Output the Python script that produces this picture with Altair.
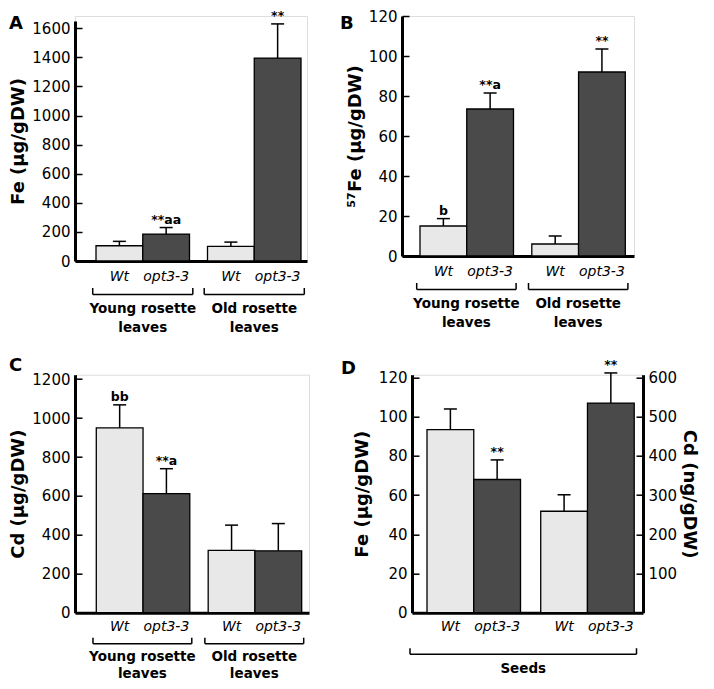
import altair as alt
import pandas as pd

FONT = "DejaVu Sans, Verdana, sans-serif"
GENO = ["Wt", "opt3-3"]
LEAF_GROUPS = ["Young rosette\nleaves", "Old rosette\nleaves"]
SEED_GROUPS = ["Fe", "Cd"]
FILL = ["#e8e8e8", "#4a4a4a"]

# Panel A: Fe in leaves (µg/gDW)
A_val = [105, 185, 100, 1395]
A_err = [30, 45, 30, 235]
A_ann = ["", "**aa", "", "**"]
A_ticks = [0, 200, 400, 600, 800, 1000, 1200, 1400, 1600]

# Panel B: 57Fe in leaves (µg/gDW)
B_val = [15, 73.5, 6, 92]
B_err = [3.7, 8, 4, 11.5]
B_ann = ["b", "**a", "", "**"]
B_ticks = [0, 20, 40, 60, 80, 100, 120]

# Panel C: Cd in leaves (µg/gDW)
C_val = [950, 612, 320, 318]
C_err = [118, 128, 130, 140]
C_ann = ["bb", "**a", "", ""]
C_ticks = [0, 200, 400, 600, 800, 1000, 1200]

# Panel D: seeds, Fe (µg/gDW) left axis, Cd (ng/gDW) right axis
D_fe_val = [93.5, 68]
D_fe_err = [10.5, 10]
D_fe_ann = ["", "**"]
D_fe_ticks = [0, 20, 40, 60, 80, 100, 120]
D_cd_val = [259, 535]
D_cd_err = [42, 77]
D_cd_ann = ["", "**"]
D_cd_ticks = [100, 200, 300, 400, 500, 600]


def yaxis(values, title, orient="left", tpad=4):
    return alt.Axis(values=values, title=title, orient=orient, format="d", labelOverlap=False,
                    tickCount=30,
                    grid=True, gridDash=[7, 3000], gridColor="black", gridWidth=1.5, gridOpacity=1,
                    ticks=False, domain=True, domainColor="black", domainWidth=3,
                    labelFont=FONT, labelFontSize=15, labelColor="black", labelPadding=5,
                    titleFont=FONT, titleFontSize=18, titleFontWeight="bold", titleColor="black",
                    titlePadding=tpad)


XAXIS = alt.Axis(labels=False, ticks=False, title=None, grid=False, domain=True,
                 domainColor="black", domainWidth=3)


def value_layers(df, xenc, yscale, yax):
    base = alt.Chart(df)
    xo = alt.XOffset("genotype:N", scale=alt.Scale(domain=GENO, paddingInner=0, paddingOuter=0))
    bars = base.mark_bar(stroke="black", strokeWidth=1.3).encode(
        x=xenc, xOffset=xo, y=alt.Y("value:Q", scale=yscale, axis=yax),
        color=alt.Color("genotype:N", scale=alt.Scale(domain=GENO, range=FILL), legend=None))
    err = base.mark_rule(color="black", strokeWidth=1.5).encode(
        x=xenc, xOffset=xo, y="value:Q", y2="hi:Q")
    cap = base.mark_tick(color="black", size=13, thickness=1.5, opacity=1).encode(
        x=xenc, xOffset=xo, y="hi:Q")
    ann = base.mark_text(font=FONT, fontSize=12.5, fontWeight="bold", dy=-4,
                         baseline="alphabetic", color="black").encode(
        x=xenc, xOffset=xo, y="hi:Q", text="annot:N")
    return [bars, err, cap, ann]


def letter_layer(letter, lx, ly):
    return alt.Chart(pd.DataFrame({"t": [letter]})).mark_text(
        font=FONT, fontSize=18, fontWeight="bold", align="left", baseline="alphabetic",
        color="black").encode(x=alt.value(lx), y=alt.value(ly), text="t:N")


def geno_layer(df, xenc, y):
    xo = alt.XOffset("genotype:N", scale=alt.Scale(domain=GENO, paddingInner=0, paddingOuter=0))
    return alt.Chart(df).mark_text(font=FONT, fontSize=14, fontStyle="italic",
                                   baseline="alphabetic", color="black").encode(
        x=xenc, xOffset=xo, y=alt.value(y), text="genotype:N")


def leaf_panel(letter, vals, errs, anns, title, ydomain, ticks, W, H, pi, po, al,
               lx, ly, txt, yrange=None):
    df = pd.DataFrame({
        "group": [LEAF_GROUPS[i // 2] for i in range(4)],
        "genotype": [GENO[i % 2] for i in range(4)],
        "value": vals,
        "hi": [v + e for v, e in zip(vals, errs)],
        "annot": anns,
    })
    xs = alt.Scale(domain=LEAF_GROUPS, paddingInner=pi, paddingOuter=po, align=al)
    xenc = alt.X("group:N", scale=xs, axis=XAXIS)
    skw = dict(domain=ydomain, nice=False)
    if yrange is not None:
        skw["range"] = yrange
    layers = value_layers(df, xenc, alt.Scale(**skw), yaxis(ticks, title))
    gdf = pd.DataFrame({"group": LEAF_GROUPS})
    gy, by, bt, ly1, lh = txt
    layers.append(geno_layer(df, xenc, H + gy))
    layers.append(alt.Chart(gdf).mark_bar(color="black", width={"band": 1.07}).encode(
        x=xenc, y=alt.value(H + by - 0.75), y2=alt.value(H + by + 0.75)))
    for bp, off in ((0, -3.3), (1, 3.3)):
        layers.append(alt.Chart(gdf).mark_rule(color="black", strokeWidth=1.5, xOffset=off).encode(
            x=alt.X("group:N", scale=xs, axis=XAXIS, bandPosition=bp),
            y=alt.value(H + bt), y2=alt.value(H + by)))
    layers.append(alt.Chart(gdf).mark_text(font=FONT, fontSize=13.5, fontWeight="bold",
                                           lineBreak="\n", lineHeight=lh,
                                           baseline="alphabetic", color="black").encode(
        x=xenc, y=alt.value(H + ly1), text="group:N"))
    layers.append(letter_layer(letter, lx, ly))
    return alt.layer(*layers).properties(width=W, height=H)


row1_txt = (19.5, 33.5, 27, 52, 18.5)
row2_txt = (18.5, 31, 25, 48, 17.5)

A = leaf_panel("A", A_val, A_err, A_ann, "Fe (µg/gDW)", [0, 1650], A_ticks,
               232, 245, 0.1614, 0.1211, 0.778, -66, 12.7, row1_txt, yrange=[245, 5])
B = leaf_panel("B", B_val, B_err, B_ann, "⁵⁷Fe (µg/gDW)", [0, 120], B_ticks,
               232, 240, 0.170, 0.1225, 0.657, -62, 12.7, row1_txt)
C = leaf_panel("C", C_val, C_err, C_ann, "Cd (µg/gDW)", [0, 1223], C_ticks,
               234, 238, 0.176, 0.1336, 0.712, -66, -3.3, row2_txt)

# Panel D
WD, HD = 231, 238
dfe = pd.DataFrame({"group": ["Fe", "Fe"], "genotype": GENO, "value": D_fe_val,
                    "hi": [v + e for v, e in zip(D_fe_val, D_fe_err)], "annot": D_fe_ann})
dcd = pd.DataFrame({"group": ["Cd", "Cd"], "genotype": GENO, "value": D_cd_val,
                    "hi": [v + e for v, e in zip(D_cd_val, D_cd_err)], "annot": D_cd_ann})
dall = pd.concat([dfe, dcd], ignore_index=True)
xsD = alt.Scale(domain=SEED_GROUPS, paddingInner=0.176, paddingOuter=0.1038, align=0.636)
xD = alt.X("group:N", scale=xsD, axis=XAXIS)
fe_l = alt.layer(*value_layers(dfe, xD, alt.Scale(domain=[0, 121.5], nice=False),
                               yaxis(D_fe_ticks, "Fe (µg/gDW)", tpad=7)))
cd_l = alt.layer(*value_layers(dcd, xD, alt.Scale(domain=[0, 607.5], nice=False),
                               yaxis(D_cd_ticks, "Cd (ng/gDW)", orient="right", tpad=3)))
one = pd.DataFrame({"t": ["Seeds"]})
seed_y = HD + 41.5
bx1, bx2 = -2, WD - 6.5
d_layers = [
    fe_l, cd_l,
    geno_layer(dall, xD, HD + 18.3),
    alt.Chart(one).mark_rule(color="black", strokeWidth=1.5).encode(
        x=alt.value(bx1), x2=alt.value(bx2), y=alt.value(seed_y)),
    alt.Chart(one).mark_rule(color="black", strokeWidth=1.5).encode(
        x=alt.value(bx1), y=alt.value(seed_y - 6), y2=alt.value(seed_y)),
    alt.Chart(one).mark_rule(color="black", strokeWidth=1.5).encode(
        x=alt.value(bx2), y=alt.value(seed_y - 6), y2=alt.value(seed_y)),
    alt.Chart(one).mark_text(font=FONT, fontSize=13.5, fontWeight="bold",
                             baseline="alphabetic", color="black").encode(
        x=alt.value((bx1 + bx2) / 2), y=alt.value(HD + 60), text="t:N"),
    letter_layer("D", -71, -0.3),
]
D = alt.layer(*d_layers).resolve_scale(y="independent").properties(width=WD, height=HD)

row1 = alt.hconcat(A, B, spacing=95, bounds="flush")
row2 = alt.hconcat(C, D, spacing=103, bounds="flush")
chart = alt.vconcat(row1, row2, spacing=21.7, bounds="full",
                    padding={"left": 0, "top": 0, "right": 4, "bottom": 0}).configure_view(
    strokeWidth=0).configure(background="white")

chart.save("out.html", embed_options={"renderer": "svg", "actions": False})
